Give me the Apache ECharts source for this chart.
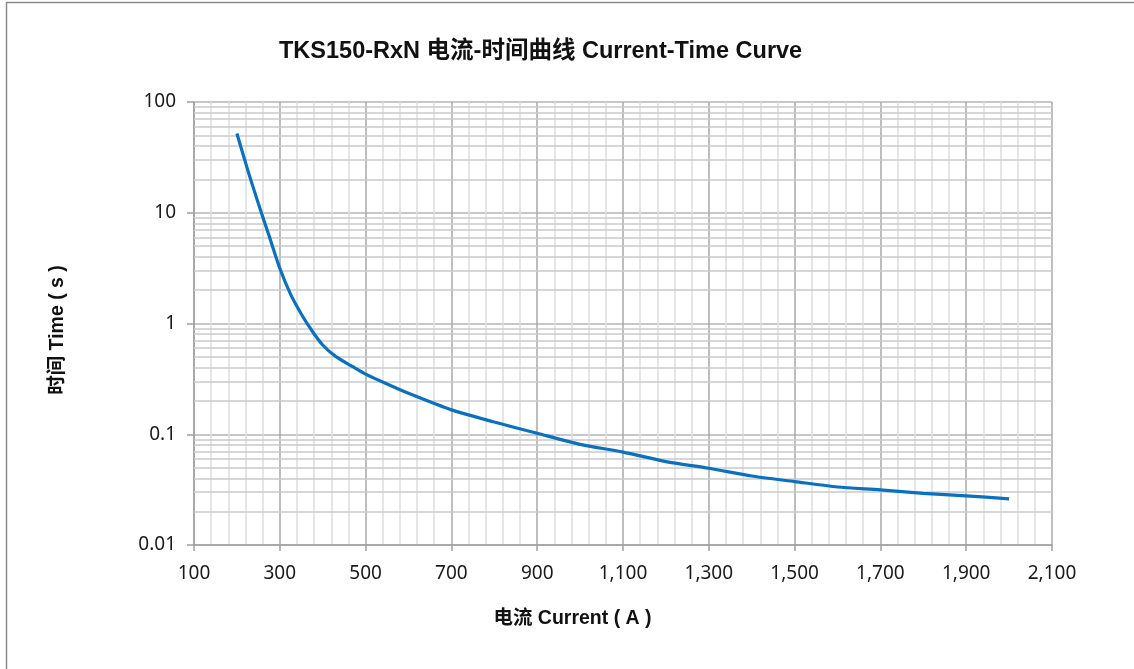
<!DOCTYPE html>
<html>
<head>
<meta charset="utf-8">
<script src="https://cdn.jsdelivr.net/npm/echarts@6/dist/echarts.min.js"></script>
<style>
html,body{margin:0;padding:0;background:#fff;}
#chart{width:1134px;height:669px;}
</style>
</head>
<body>
<div id="chart"></div>
<script>
// ---- data ----
const currentA = [200, 225, 250, 275, 300, 325, 350, 375, 400, 430, 470, 500, 550, 600, 700, 800, 900, 1000, 1100, 1200, 1300, 1400, 1500, 1600, 1700, 1800, 1900, 2000];
const timeS    = [52, 24.5, 12.1, 6.2, 3.15, 1.84, 1.22, 0.86, 0.64, 0.505, 0.407, 0.349, 0.284, 0.234, 0.166, 0.129, 0.102, 0.081, 0.069, 0.0566, 0.0493, 0.042, 0.0374, 0.0334, 0.0315, 0.0293, 0.0278, 0.0261];
const xTicks = [100, 300, 500, 700, 900, 1100, 1300, 1500, 1700, 1900, 2100];
const yTicks = [0.01, 0.1, 1, 10, 100];
const yMinorLines = [0.02,0.03,0.04,0.05,0.06,0.07,0.08,0.09,
                     0.2,0.3,0.4,0.5,0.6,0.7,0.8,0.9,
                     2,3,4,5,6,7,8,9,
                     20,30,40,50,60,70,80,90];
const titleText = 'TKS150-RxN 电流-时间曲线 Current-Time Curve';
const xName = '电流 Current ( A )';
const yName = '时间 Time ( s )';

const boldFont = '"Liberation Sans", "Noto Sans CJK SC", sans-serif';
const tickFont = '"Noto Sans", "Open Sans", sans-serif';

const chart = echarts.init(document.getElementById('chart'), null, {renderer: 'canvas'});
chart.setOption({
  animation: false,
  backgroundColor: '#fff',
  graphic: [{
    type: 'rect', silent: true, z: 100,
    shape: {x: 6.5, y: 2.5, width: 1200, height: 800},
    style: {fill: 'none', stroke: '#8a8a8a', lineWidth: 1.5}
  }],
  title: {
    text: titleText,
    left: 274, top: 35,
    textStyle: {fontFamily: boldFont, fontWeight: 'bold', fontSize: 23.5, color: '#111'}
  },
  grid: {left: 194, right: 82, top: 102, bottom: 124},
  xAxis: {
    type: 'value', min: 100, max: 2100, interval: 200,
    name: xName, nameLocation: 'middle', nameGap: 64,
    nameTextStyle: {fontFamily: boldFont, fontWeight: 'bold', fontSize: 19.5, color: '#111',
      padding: [0, 101, 0, 0]},
    axisLine: {show: true, lineStyle: {color: '#a0a0a0', width: 1.5}},
    axisTick: {show: true, length: 6, lineStyle: {color: '#a0a0a0', width: 1.5}},
    axisLabel: {margin: 19, fontFamily: tickFont, fontSize: 19, color: '#1a1a1a',
      formatter: v => Number(v).toLocaleString('en-US')},
    splitLine: {show: true, lineStyle: {color: '#a8a8a8', width: 1.5}},
    minorTick: {show: false, splitNumber: 5},
    minorSplitLine: {show: true, lineStyle: {color: '#dedede', width: 1.5}}
  },
  yAxis: {
    type: 'log', logBase: 10, min: 0.01, max: 100,
    name: yName, nameLocation: 'middle', nameGap: 127, nameRotate: 90,
    nameTextStyle: {fontFamily: boldFont, fontWeight: 'bold', fontSize: 19.5, color: '#111',
      padding: [0, 13, 0, 0]},
    axisLine: {show: true, lineStyle: {color: '#a0a0a0', width: 1.5}},
    axisTick: {show: true, length: 7, lineStyle: {color: '#a0a0a0', width: 1.5}},
    axisLabel: {margin: 18, fontFamily: tickFont, fontSize: 19, color: '#1a1a1a',
      formatter: v => {
        const m = yTicks.find(t => Math.abs(t - v) / t < 1e-6);
        return m !== undefined ? String(m) : '';
      }},
    splitLine: {show: true, lineStyle: {color: '#b4b4b4', width: 1.5}}
  },
  series: [
    {
      type: 'line', name: 'minor grid', data: [], z: 1, silent: true,
      markLine: {
        silent: true, symbol: ['none', 'none'], animation: false,
        label: {show: false},
        lineStyle: {color: '#cacaca', width: 1.5, type: 'solid'},
        emphasis: {disabled: true},
        data: yMinorLines.map(v => ({yAxis: v}))
      }
    },
    {
      type: 'line', name: 'Current-Time', z: 5,
      data: currentA.map((c, i) => [c, timeS[i]]),
      smooth: 0.25, showSymbol: false, symbol: 'none',
      lineStyle: {color: '#0a70c0', width: 3.2}
    }
  ]
});
</script>
</body>
</html>
